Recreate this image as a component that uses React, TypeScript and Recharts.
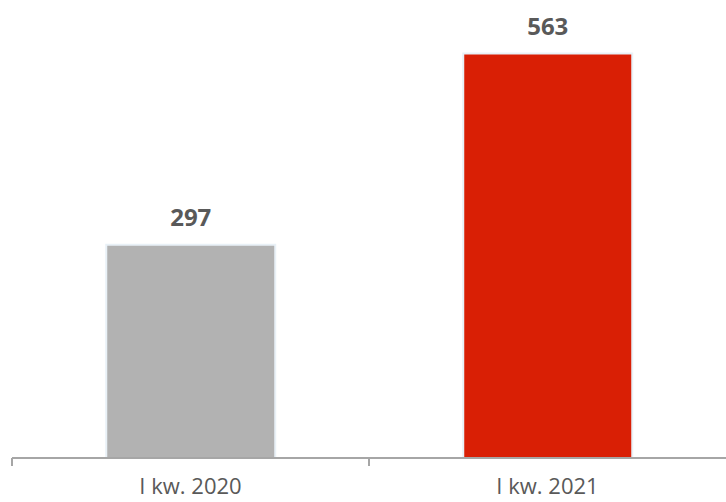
import { BarChart, Bar, XAxis, YAxis, Cell, LabelList } from 'recharts'

const categories = ['I kw. 2020', 'I kw. 2021']
const values = [297, 563]
const barColors = ['#b2b2b2', '#d91f05']

const data = categories.map((name, i) => ({ name, value: values[i] }))

const FONT = '"Open Sans", "Liberation Sans", sans-serif'
const TICK_SIZE = 8
const TICK_MARGIN = 12

// category label plus a tick mark on the left edge of each band
const BandTick = (props: any) => {
  const { x, y, payload } = props
  const axisY = y - TICK_SIZE - TICK_MARGIN
  const edge = x - (payload.offset || 0)
  return (
    <g>
      <line x1={edge} x2={edge} y1={axisY} y2={axisY + TICK_SIZE} stroke="#a6a6a6" strokeWidth={2} />
      <text x={x} y={y} dy="0.71em" textAnchor="middle" fill="#595959" fontSize={22} fontFamily={FONT}>
        {payload.value}
      </text>
    </g>
  )
}

export default function App() {
  return (
    <div style={{ position: 'absolute', left: 0, top: 0, width: 726, height: 502, overflow: 'hidden', background: '#fff' }}>
      <BarChart
        width={726}
        height={502}
        data={data}
        margin={{ top: 27, right: 0, left: 12, bottom: 0 }}
        barCategoryGap="26.4%"
      >
        <XAxis
          dataKey="name"
          height={44}
          axisLine={{ stroke: '#a6a6a6', strokeWidth: 2 }}
          tickLine={false}
          tickSize={TICK_SIZE}
          tickMargin={TICK_MARGIN}
          interval={0}
          tick={<BandTick />}
        />
        <YAxis hide domain={[0, 600]} />
        <Bar dataKey="value" stroke="#e9f1f7" strokeWidth={2} isAnimationActive={false}>
          {data.map((d, i) => (
            <Cell key={d.name} fill={barColors[i]} />
          ))}
          <LabelList
            dataKey="value"
            position="top"
            offset={19}
            fill="#595959"
            fontSize={24}
            fontWeight={700}
            fontFamily={FONT}
          />
        </Bar>
      </BarChart>
    </div>
  )
}
